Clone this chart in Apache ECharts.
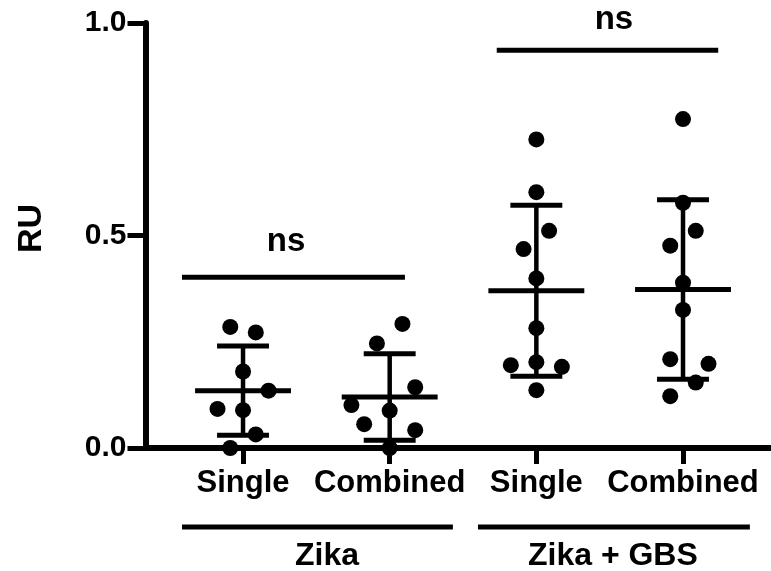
<!DOCTYPE html>
<html>
<head>
<meta charset="utf-8">
<script src="https://cdn.jsdelivr.net/npm/echarts@6/dist/echarts.min.js"></script>
<style>html,body{margin:0;padding:0;background:#fff;}#c{width:771px;height:571px;}</style>
</head>
<body>
<div id="c"></div>
<script>
// ---- data ----
const categories = ['Single', 'Combined', 'Single', 'Combined'];
const groupNames = ['Zika', 'Zika + GBS'];
const yTicks = [0, 0.5, 1.0];

const zikaSingle      = [0.285, 0.272, 0.180, 0.135, 0.092, 0.089, 0.032, 0.000];
const zikaCombined    = [0.292, 0.246, 0.143, 0.101, 0.088, 0.056, 0.042, 0.000];
const zikaGbsSingle   = [0.726, 0.602, 0.511, 0.468, 0.399, 0.282, 0.202, 0.195, 0.191, 0.136];
const zikaGbsCombined = [0.774, 0.577, 0.511, 0.476, 0.389, 0.325, 0.209, 0.198, 0.154, 0.122];

// horizontal dot slot of each point (scatter spread as drawn)
const slotsZikaSingle      = [-1, 1, 0, 2, -2, 0, 1, -1];
const slotsZikaCombined    = [1, -1, 2, -3, 0, -2, 2, 0];
const slotsZikaGbsSingle   = [0, 0, 1, -1, 0, 0, 0, -2, 2, 0];
const slotsZikaGbsCombined = [0, 0, 1, -1, 0, 0, -1, 2, 1, -1];

const means = [0.135, 0.120, 0.370, 0.373];
const sds   = [0.105, 0.102, 0.201, 0.211];

// significance brackets: [xStart, xEnd, y], label position [x, y]
const sigBrackets = [[0.584, 2.104, 0.402], [2.73, 4.24, 0.936]];
const sigLabelPos = [[1.293, 0.485], [3.529, 1.007]];
const sigLabels = ['ns', 'ns'];

// group spans under axis: [xStart, xEnd, y], label position [x, y]
const groupSpans = [[0.584, 2.431, -0.186], [2.602, 4.456, -0.186]];
const groupLabelPos = [[1.573, -0.254], [3.522, -0.254]];

// ---- build ----
const SLOT = 0.087;
const FONT = '"Liberation Sans", Arial, Helvetica, sans-serif';
const groups = [zikaSingle, zikaCombined, zikaGbsSingle, zikaGbsCombined];
const slots = [slotsZikaSingle, slotsZikaCombined, slotsZikaGbsSingle, slotsZikaGbsCombined];
const points = [];
groups.forEach((vals, gi) => {
  vals.forEach((v, i) => points.push([gi + 1 + slots[gi][i] * SLOT, v]));
});
const errData = means.map((m, i) => [i + 1, m, sds[i]]);
const sigData = sigBrackets.map((b, i) => [b[0], b[1], b[2], sigLabelPos[i][0], sigLabelPos[i][1], sigLabels[i]]);
const grpData = groupSpans.map((b, i) => [b[0], b[1], b[2], groupLabelPos[i][0], groupLabelPos[i][1], groupNames[i]]);

const MEAN_HALF = 0.327, CAP_HALF = 0.177;

function lineEl(p1, p2, w) {
  return { type: 'line', shape: { x1: p1[0], y1: p1[1], x2: p2[0], y2: p2[1] },
    style: { stroke: '#000', lineWidth: w } };
}

const chart = echarts.init(document.getElementById('c'), null, { renderer: 'canvas' });
chart.setOption({
  backgroundColor: '#fff',
  animation: false,
  grid: { left: 145.5, right: 0, top: 23, bottom: 123, containLabel: false, outerBoundsMode: 'none' },
  xAxis: {
    type: 'value', min: 0.335, max: 4.6,
    axisLine: { show: true, lineStyle: { color: '#000', width: 6 } },
    axisTick: { show: true, customValues: [1, 2, 3, 4], length: 16, lineStyle: { color: '#000', width: 5 } },
    axisLabel: { show: true, customValues: [1, 2, 3, 4], margin: 20,
      formatter: v => categories[Math.round(v) - 1] || '',
      color: '#000', fontSize: 31, fontWeight: 'bold', fontFamily: FONT },
    splitLine: { show: false }
  },
  yAxis: {
    type: 'value', min: 0, max: 1.0, interval: 0.5,
    name: 'RU', nameLocation: 'middle', nameGap: 97, nameRotate: 90,
    nameTextStyle: { color: '#000', fontSize: 34, fontWeight: 'bold', fontFamily: FONT, padding: [0, 0, 0, 14] },
    axisLine: { show: true, lineStyle: { color: '#000', width: 6 } },
    axisTick: { show: true, length: 18, lineStyle: { color: '#000', width: 5 } },
    axisLabel: { margin: 19, color: '#000', fontSize: 30, fontWeight: 'bold', fontFamily: FONT,
      formatter: v => v.toFixed(1) },
    splitLine: { show: false }
  },
  series: [
    {
      type: 'custom', clip: false, z: 3,
      data: errData,
      renderItem: function (params, api) {
        const x = api.value(0), m = api.value(1), s = api.value(2);
        const c = (a, b) => api.coord([a, b]);
        return { type: 'group', children: [
          lineEl(c(x - MEAN_HALF, m), c(x + MEAN_HALF, m), 5),
          lineEl(c(x, m - s), c(x, m + s), 4.5),
          lineEl(c(x - CAP_HALF, m + s), c(x + CAP_HALF, m + s), 5),
          lineEl(c(x - CAP_HALF, m - s), c(x + CAP_HALF, m - s), 5)
        ]};
      }
    },
    {
      type: 'scatter', clip: false, z: 4,
      symbol: 'circle', symbolSize: 16,
      itemStyle: { color: '#000', opacity: 1 },
      emphasis: { disabled: true },
      data: points
    },
    {
      type: 'custom', clip: false, z: 3,
      data: sigData.concat(grpData),
      renderItem: function (params, api) {
        const x1 = api.value(0), x2 = api.value(1), y = api.value(2);
        const lp = api.coord([api.value(3), api.value(4)]);
        const isGroup = params.dataIndex >= sigData.length;
        const txt = isGroup ? grpData[params.dataIndex - sigData.length][5] : sigData[params.dataIndex][5];
        return { type: 'group', children: [
          lineEl(api.coord([x1, y]), api.coord([x2, y]), 5),
          { type: 'text', x: lp[0], y: lp[1],
            style: { text: txt, fill: '#000', align: 'center', verticalAlign: 'middle',
              font: 'bold ' + (isGroup ? 32 : 33) + 'px ' + FONT } }
        ]};
      }
    }
  ]
});
</script>
</body>
</html>
